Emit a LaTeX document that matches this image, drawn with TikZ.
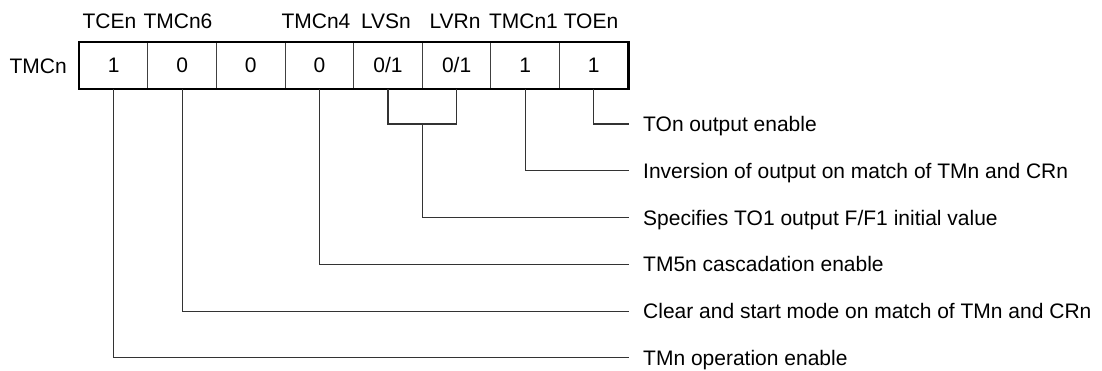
\documentclass[tikz,border=0pt]{standalone}
\usepackage{fontspec}
\setmainfont{Liberation Sans}
\begin{document}
\begin{tikzpicture}[x=1pt,y=-1pt,
  every node/.style={font=\fontsize{21}{25}\selectfont, inner sep=0pt, text height=15pt, text depth=0pt},
  cell/.style={minimum width=68.6pt, minimum height=46pt, draw=black!75, line width=1pt},
  frame/.style={draw=black, line width=2.6pt},
  toplab/.style={anchor=center},
  desc/.style={anchor=west},
  conn/.style={draw=black!80, line width=1.3pt}]
\useasboundingbox (0,0) rectangle (1102,370);
% register cells
\node[cell] (c7) at (113.6,65.3) {1};
\node[cell] (c6) at (182.2,65.3) {0};
\node[cell] (c5) at (250.8,65.3) {0};
\node[cell] (c4) at (319.4,65.3) {0};
\node[cell] (c3) at (388.0,65.3) {0/1};
\node[cell] (c2) at (456.6,65.3) {0/1};
\node[cell] (c1) at (525.2,65.3) {1};
\node[cell] (c0) at (593.8,65.3) {1};
\draw[frame] (c7.north west) rectangle (c0.south east);
\node[anchor=east] (reg) at (67,66) {TMCn};
% bit names
\node[toplab] (t7) at (109.5,20.8) {TCEn};
\node[toplab] (t6) at (178,20.8) {TMCn6};
\node[toplab] (t4) at (316,20.8) {TMCn4};
\node[toplab] (t3) at (386,20.8) {LVSn};
\node[toplab] (t2) at (455,20.8) {LVRn};
\node[toplab] (t1) at (523.5,20.8) {TMCn1};
\node[toplab] (t0) at (591,20.8) {TOEn};
% descriptions
\node[desc] (d0) at (643,124.0) {TOn output enable};
\node[desc] (d1) at (643,170.8) {Inversion of output on match of TMn and CRn};
\node[desc] (d2) at (643,217.6) {Specifies TO1 output F/F1 initial value};
\node[desc] (d4) at (643,264.4) {TM5n cascadation enable};
\node[desc] (d6) at (643,311.2) {Clear and start mode on match of TMn and CRn};
\node[desc] (d7) at (643,357.5) {TMn operation enable};
% connectors
\coordinate (j) at (422.3,124.0);
\draw[conn] (c0.south) |- ([xshift=-14pt]d0.west);
\draw[conn] (c1.south) |- ([xshift=-14pt]d1.west);
\draw[conn] (c3.south) |- (j) -| (c2.south);
\draw[conn] (j) |- ([xshift=-14pt]d2.west);
\draw[conn] (c4.south) |- ([xshift=-14pt]d4.west);
\draw[conn] (c6.south) |- ([xshift=-14pt]d6.west);
\draw[conn] (c7.south) |- ([xshift=-14pt]d7.west);
\end{tikzpicture}
\end{document}
